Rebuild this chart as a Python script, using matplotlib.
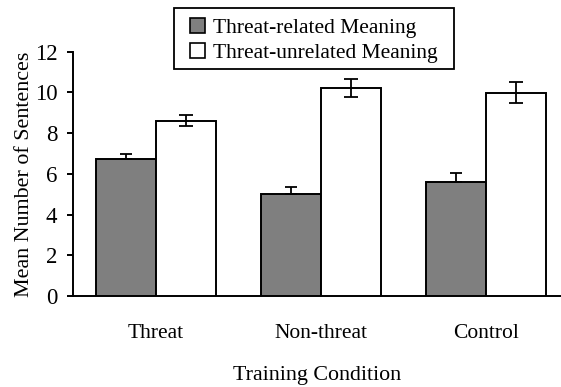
import numpy as np
import matplotlib.pyplot as plt
from matplotlib.patches import Rectangle

plt.rcParams['font.family'] = ['Liberation Serif', 'DejaVu Serif']

conditions = ['Threat', 'Non-threat', 'Control']
related = [6.72, 5.01, 5.59]
related_err = [0.26, 0.36, 0.47]
unrelated = [8.61, 10.21, 9.99]
unrelated_err = [0.28, 0.43, 0.51]

fig = plt.figure(figsize=(5.61, 3.87), dpi=100)
ax = fig.add_axes([0.1307, 0.2351, 0.8693, 0.6313])

x = np.arange(len(conditions))
w = 0.364

ax.bar(x - w / 2, related, w, color='#7f7f7f', edgecolor='black', linewidth=1.4,
       label='Threat-related Meaning', zorder=3)
ax.bar(x + w / 2, unrelated, w, color='white', edgecolor='black', linewidth=1.4,
       label='Threat-unrelated Meaning', zorder=3)
ax.errorbar(x - w / 2, related, yerr=[[0] * 3, related_err], fmt='none',
            ecolor='black', elinewidth=1.3, capsize=4.6, capthick=1.3, zorder=4)
ax.errorbar(x + w / 2, unrelated, yerr=unrelated_err, fmt='none',
            ecolor='black', elinewidth=1.3, capsize=4.8, capthick=1.3, zorder=4)

ax.set_xlim(-0.50, 2.456)
ax.set_ylim(0, 12)
ax.set_yticks(range(0, 13, 2))
ax.set_xticks(x)
ax.set_xticklabels(conditions)
ax.tick_params(axis='x', length=0, pad=20.5, labelsize=15.5)
ax.tick_params(axis='y', length=4, width=1.4, direction='out', labelsize=16.5, pad=7.5)
for s in ['top', 'right']:
    ax.spines[s].set_visible(False)
for s in ['left', 'bottom']:
    ax.spines[s].set_linewidth(1.4)

ax.set_ylabel('Mean Number of Sentences', fontsize=15.8, labelpad=0.5)
ax.set_xlabel('Training Condition', fontsize=15.8, labelpad=16.5)

# legend entries without frame, box drawn separately (tighter vertical padding)
leg = fig.legend(loc='upper left', bbox_to_anchor=(190 / 561, 1 - 18 / 387), fontsize=15.5,
                 frameon=False, handlelength=0.7, handleheight=0.7, handletextpad=0.37,
                 borderpad=0, labelspacing=0.24, borderaxespad=0)
for h in leg.legend_handles:
    h.set_linewidth(1.2)
fig.patches.append(Rectangle((174 / 561, 1 - 69 / 387), 280 / 561, 61 / 387,
                             transform=fig.transFigure, fill=False,
                             edgecolor='black', linewidth=1.3))

fig.savefig('out.png', dpi=100)
